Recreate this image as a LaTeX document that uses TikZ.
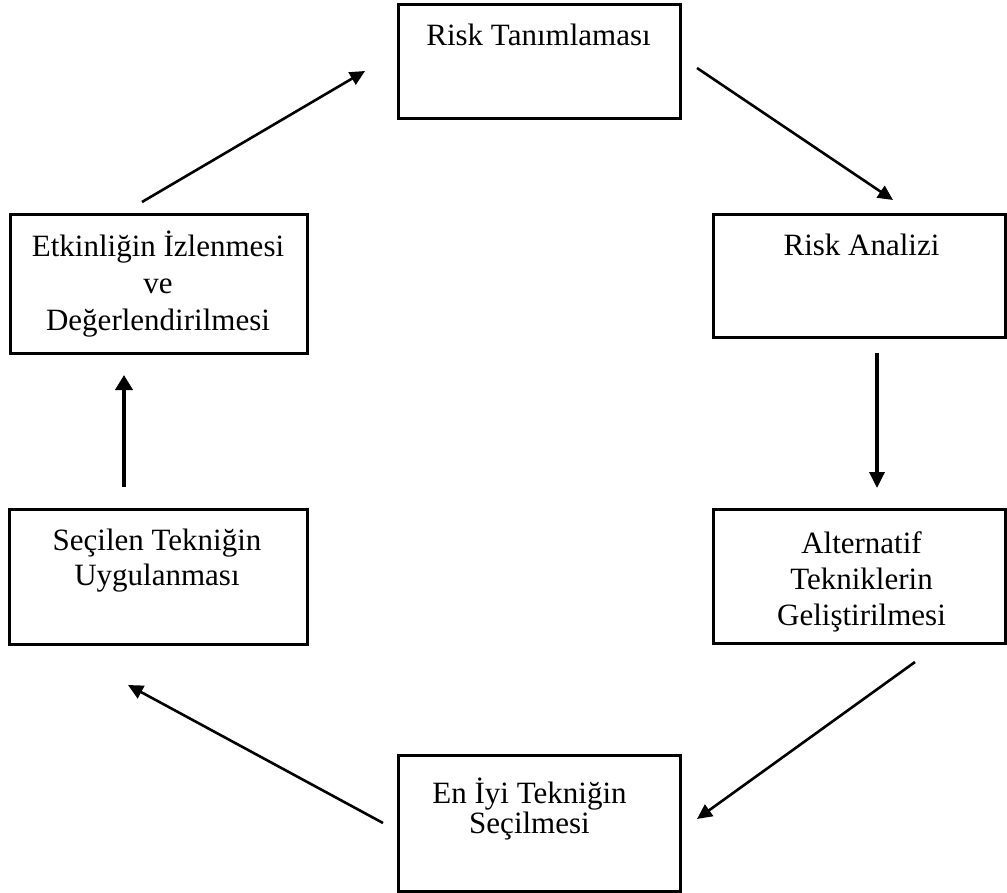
\documentclass[tikz,border=0pt]{standalone}
\usepackage{fontspec}
\setmainfont{Liberation Serif}
\usetikzlibrary{arrows.meta}
\newcommand{\capstrut}{\rule{0pt}{28pt}}
\AtBeginDocument{\lineskiplimit=-60pt\relax}
\begin{document}
\begin{tikzpicture}[x=1pt,y=-1pt,
  stagebox/.style={draw,line width=3pt,inner sep=0pt},
  stagetext/.style={font=\fontsize{31}{#1}\selectfont,
    align=center,inner sep=0pt,anchor=north},
  flow/.style={line width=2.6pt,-{Triangle[length=15pt,width=14pt]}},
  flowv/.style={line width=3.4pt,-{Triangle[length=16pt,width=15pt]}},
  flowb/.style={line width=4.6pt,-{Triangle[length=15pt,width=17pt]}}]
\path[use as bounding box] (0,0) rectangle (1007,893);

% stage boxes
\node[stagebox,minimum width=282pt,minimum height=114pt] (ident) at (539,62) {};
\node[stagebox,minimum width=292pt,minimum height=123pt] (analiz) at (859,276.5) {};
\node[stagebox,minimum width=292pt,minimum height=134pt] (alter) at (859,576) {};
\node[stagebox,minimum width=282pt,minimum height=136pt] (secim) at (539,823) {};
\node[stagebox,minimum width=298pt,minimum height=135pt] (uygula) at (158,576.5) {};
\node[stagebox,minimum width=297pt,minimum height=139pt] (izle) at (158.5,284.5) {};

% stage captions
\node[stagetext=37] (identT) at (538.5,17) {\capstrut Risk Tanımlaması};
\node[stagetext=37] (analizT) at (861.5,227) {\capstrut Risk Analizi};
\node[stagetext=36] (alterT) at (861.5,525) {\capstrut Alternatif\\Tekniklerin\\Geliştirilmesi};
\node[stagetext=30] (secimT) at (529.5,775) {\capstrut En İyi Tekniğin\\Seçilmesi};
\node[stagetext=35] (uygulaT) at (157,522) {\capstrut Seçilen Tekniğin\\Uygulanması};
\node[stagetext=37] (izleT) at (158,228) {\capstrut Etkinliğin İzlenmesi\\ve\\Değerlendirilmesi};

% connector end points
\coordinate (izleOut) at (142,202);   \coordinate (identIn) at (365,71);
\coordinate (identOut) at (697,68);   \coordinate (analizIn) at (893,200);
\coordinate (analizOut) at (877,353); \coordinate (alterIn) at (877,488);
\coordinate (alterOut) at (915,662);  \coordinate (secimIn) at (697,819);
\coordinate (secimOut) at (383,823);  \coordinate (uygulaIn) at (128,685);
\coordinate (uygulaOut) at (124,487); \coordinate (izleIn) at (124,375);

% cycle arrows
\draw[flow] (izleOut) -- (identIn);
\draw[flow] (identOut) -- (analizIn);
\draw[flowv] (analizOut) -- (alterIn);
\draw[flow] (alterOut) -- (secimIn);
\draw[flow] (secimOut) -- (uygulaIn);
\draw[flowb] (uygulaOut) -- (izleIn);
\end{tikzpicture}
\end{document}
